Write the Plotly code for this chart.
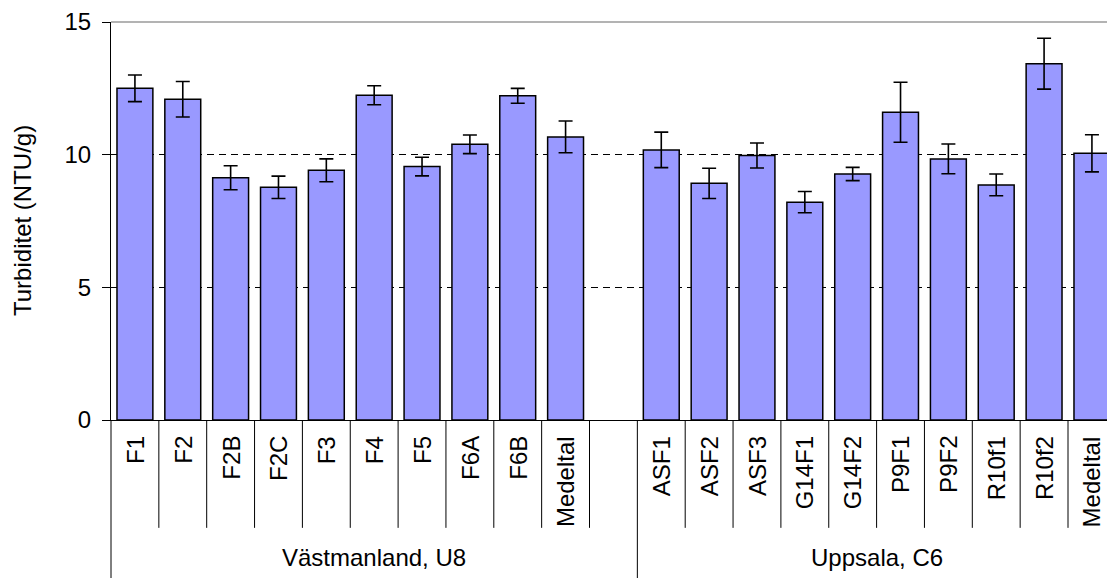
import plotly.graph_objects as go

# Turbidity per sample (NTU/g), mean with standard deviation, two sites
u8_label = "Västmanland, U8"
u8_samples = ["F1", "F2", "F2B", "F2C", "F3", "F4", "F5", "F6A", "F6B", "Medeltal"]
u8_values = [12.50, 12.09, 9.13, 8.77, 9.41, 12.24, 9.55, 10.39, 12.22, 10.67]
u8_errors = [0.50, 0.67, 0.45, 0.42, 0.43, 0.36, 0.35, 0.35, 0.28, 0.60]

c6_label = "Uppsala, C6"
c6_samples = ["ASF1", "ASF2", "ASF3", "G14F1", "G14F2", "P9F1", "P9F2", "R10f1", "R10f2", "Medeltal"]
c6_values = [10.18, 8.92, 9.97, 8.21, 9.27, 11.60, 9.84, 8.86, 13.43, 10.05]
c6_errors = [0.67, 0.57, 0.47, 0.40, 0.25, 1.13, 0.56, 0.41, 0.96, 0.70]

y_ticks = [0, 5, 10, 15]
y_title = "Turbiditet (NTU/g)"

FONT = "Liberation Sans, Arial, sans-serif"
FS = 24
BAR_COLOR = "#9999FF"

# one empty slot separates the two sites
labels = u8_samples + [""] + c6_samples
values = u8_values + [None] + c6_values
errors = u8_errors + [None] + c6_errors
positions = list(range(len(labels)))
gap_pos = len(u8_samples)

fig = go.Figure()
fig.add_trace(go.Bar(
    x=positions,
    y=values,
    width=0.75,
    marker=dict(color=BAR_COLOR, line=dict(color="black", width=1.5)),
    error_y=dict(type="data", array=errors, visible=True,
                 color="black", thickness=1.6, width=7),
    showlegend=False,
))

annotations = []
# rotated sample labels under each bar
for p, lab in zip(positions, labels):
    if not lab:
        continue
    annotations.append(dict(
        x=p, xref="x", y=0, yref="paper",
        text=lab, textangle=-90, showarrow=False,
        xanchor="center", yanchor="top", yshift=-14,
        font=dict(family=FONT, size=FS, color="black"),
    ))

# site labels centred under their group (the empty slot belongs to the first group)
first_lo, first_hi = -0.5, gap_pos + 0.5
second_lo, second_hi = gap_pos + 0.5, len(labels) - 0.5
for lab, lo, hi in [(u8_label, first_lo, first_hi), (c6_label, second_lo, second_hi)]:
    annotations.append(dict(
        x=(lo + hi) / 2, xref="x", y=0, yref="paper",
        text=lab, showarrow=False,
        xanchor="center", yanchor="middle", yshift=-137,
        font=dict(family=FONT, size=FS, color="black"),
    ))

# y-axis title
annotations.append(dict(
    x=0, xref="paper", y=0.5, yref="paper",
    text=y_title, textangle=-90, showarrow=False,
    xanchor="center", yanchor="middle", xshift=-89,
    font=dict(family=FONT, size=FS, color="black"),
))

shapes = []
SHORT = -0.271
LONG = -0.397
# divider lines between category cells
for p in positions[:-1]:
    b = p + 0.5
    long_line = (b == second_lo)
    shapes.append(dict(
        type="line", xref="x", yref="paper",
        x0=b, x1=b, y0=0, y1=LONG if long_line else SHORT,
        line=dict(color="black", width=1),
    ))
# left edge of the category table
shapes.append(dict(
    type="line", xref="paper", yref="paper",
    x0=0, x1=0, y0=0, y1=LONG,
    line=dict(color="black", width=1),
))
# grey top border of the plot area
shapes.append(dict(
    type="line", xref="paper", yref="paper",
    x0=0, x1=1, y0=1, y1=1,
    line=dict(color="#9a9a9a", width=1.5), layer="above",
))

cat_px = 47.85
plot_w = 1107 - 111

fig.update_layout(
    width=1107, height=578,
    margin=dict(l=111, r=0, t=22, b=158),
    paper_bgcolor="white", plot_bgcolor="white",
    font=dict(family=FONT, size=FS, color="black"),
    bargap=0.25,
    xaxis=dict(
        range=[-0.5, -0.5 + plot_w / cat_px],
        showticklabels=False, ticks="", showgrid=False, zeroline=False,
        showline=True, linecolor="black", linewidth=1,
    ),
    yaxis=dict(
        range=[0, 15], tickvals=y_ticks,
        ticks="outside", ticklen=8, tickwidth=1, tickcolor="black",
        ticklabelstandoff=6,
        showline=True, linecolor="black", linewidth=1,
        showgrid=True, gridcolor="black", gridwidth=1, griddash="7px,5px",
        zeroline=False,
        tickfont=dict(family=FONT, size=FS, color="black"),
    ),
    annotations=annotations,
    shapes=shapes,
)

fig.write_html("out.html")
